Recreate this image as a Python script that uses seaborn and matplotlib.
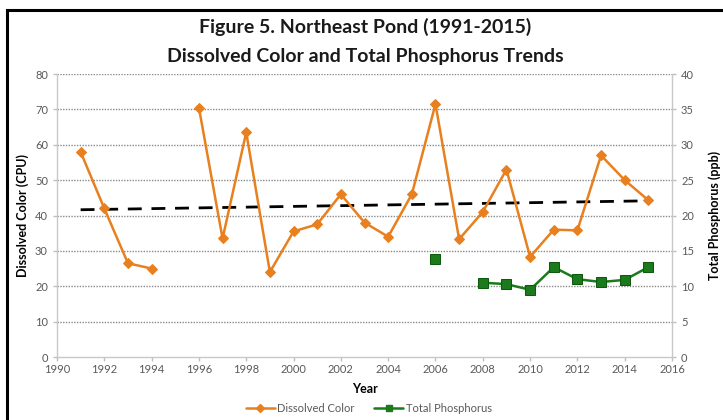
import seaborn as sns
import matplotlib.pyplot as plt
import matplotlib.patches as mpatches
from matplotlib.lines import Line2D
import pandas as pd
import numpy as np

# -----------------------------------------------------------------------------
# Data
# -----------------------------------------------------------------------------

years = [1991, 1992, 1993, 1994, 1996, 1997, 1998, 1999, 2000, 2001, 2002,
         2003, 2004, 2005, 2006, 2007, 2008, 2009, 2010, 2011, 2012, 2013,
         2014, 2015]
color_cpu = [58, 42, 26.5, 25, 70.5, 33.5, 63.5, 24, 35.5, 37.5, 46,
             38, 34, 46, 71.5, 33.3, 41, 53, 28.3, 36, 35.8, 57,
             50, 44.3]

tp_years = [2006, 2008, 2009, 2010, 2011, 2012, 2013, 2014, 2015]
tp_ppb = [13.8, 10.5, 10.3, 9.5, 12.7, 11.0, 10.6, 10.9, 12.7]

x_ticks = list(range(1990, 2017, 2))

ORANGE = "#e8801f"
GREEN = "#1b7a1b"
GREY_TXT = "#595959"

color_df = pd.DataFrame({"Year": years, "Color": color_cpu})
# break the line where a year has no sample
color_df["seg"] = (color_df["Year"].diff() > 1).cumsum()
tp_df = pd.DataFrame({"Year": tp_years, "TP": tp_ppb})
tp_df["seg"] = (tp_df["Year"].diff() > 1).cumsum()

# linear trend of dissolved color
slope, icpt = np.polyfit(color_df["Year"], color_df["Color"], 1)
trend_df = pd.DataFrame({"Year": [years[0], years[-1]]})
trend_df["Trend"] = slope * trend_df["Year"] + icpt

# -----------------------------------------------------------------------------
# Styling
# -----------------------------------------------------------------------------

sns.set_style("white")
plt.rcParams["font.family"] = ["Lato", "DejaVu Sans"]

fig = plt.figure(figsize=(7.23, 4.2), dpi=100)
ax = fig.add_axes([0.0788, 0.15, 0.8507, 0.6738])
ax2 = ax.twinx()

# gridlines
for v in range(10, 81, 10):
    ax.axhline(v, color="#8a8a8a", lw=1.0, ls=(0, (1, 1)), zorder=0)

sns.lineplot(data=trend_df, x="Year", y="Trend", ax=ax, color="black",
             lw=2, dashes=False, zorder=3)
ax.lines[-1].set_dashes([5, 3.5])

sns.lineplot(data=color_df, x="Year", y="Color", units="seg", estimator=None,
             ax=ax, color=ORANGE, lw=1.8, marker="D", markersize=5.5,
             markeredgecolor=ORANGE, zorder=4)

sns.lineplot(data=tp_df, x="Year", y="TP", units="seg", estimator=None,
             ax=ax2, color=GREEN, lw=1.8, marker="s", markersize=7.5,
             markeredgecolor="#0e5a0e", zorder=4)

ax.set_xlim(1990, 2016)
ax.set_ylim(0, 80)
ax2.set_ylim(0, 40)
ax.set_xticks(x_ticks)
ax.set_yticks(range(0, 81, 10))
ax2.set_yticks(range(0, 41, 5))

for a in (ax, ax2):
    for s in a.spines.values():
        s.set_visible(False)
    a.tick_params(colors="#bfbfbf", labelcolor=GREY_TXT, labelsize=8,
                  length=3, width=1)
ax.spines["left"].set_visible(True)
ax.spines["bottom"].set_visible(True)
ax2.spines["right"].set_visible(True)
for s in (ax.spines["left"], ax.spines["bottom"], ax2.spines["right"]):
    s.set_color("#c8c8c8")
    s.set_linewidth(1)
ax.tick_params(axis="y", left=True, direction="out")
ax.tick_params(axis="x", bottom=True, direction="out", pad=2)
ax2.tick_params(axis="y", right=True, direction="out")

ax.set_xlabel("Year", fontsize=9, fontweight="bold", color="black", labelpad=6)
ax.set_ylabel("Dissolved Color (CPU)", fontsize=9, fontweight="bold",
              color="black", labelpad=4)
ax2.set_ylabel("Total Phosphorus (ppb)", fontsize=9, fontweight="bold",
               color="black", labelpad=10)

fig.text(0.505, 0.937, "Figure 5. Northeast Pond (1991-2015)", ha="center",
         va="center", fontsize=14, fontweight="bold", color="#1a1a1a")
fig.text(0.505, 0.866, "Dissolved Color and Total Phosphorus Trends",
         ha="center", va="center", fontsize=14, fontweight="bold",
         color="#1a1a1a")

handles = [
    Line2D([], [], color=ORANGE, lw=1.8, marker="D", markersize=4),
    Line2D([], [], color=GREEN, lw=1.8, marker="s", markersize=5),
]
fig.legend(handles, ["Dissolved Color", "Total Phosphorus"], loc="center",
           bbox_to_anchor=(0.51, 0.028), ncol=2, frameon=False, fontsize=8,
           handlelength=2.6, handletextpad=0.2, columnspacing=1.8,
           labelcolor=GREY_TXT)

# black frame around the figure (cropped on right and bottom)
fig.add_artist(mpatches.Rectangle((7 / 723, -0.1), 1.2, 1.1 - 10 / 420,
                                  transform=fig.transFigure, fill=False,
                                  ec="black", lw=2.2, clip_on=False))

fig.savefig("out.png", dpi=100)
plt.close(fig)
